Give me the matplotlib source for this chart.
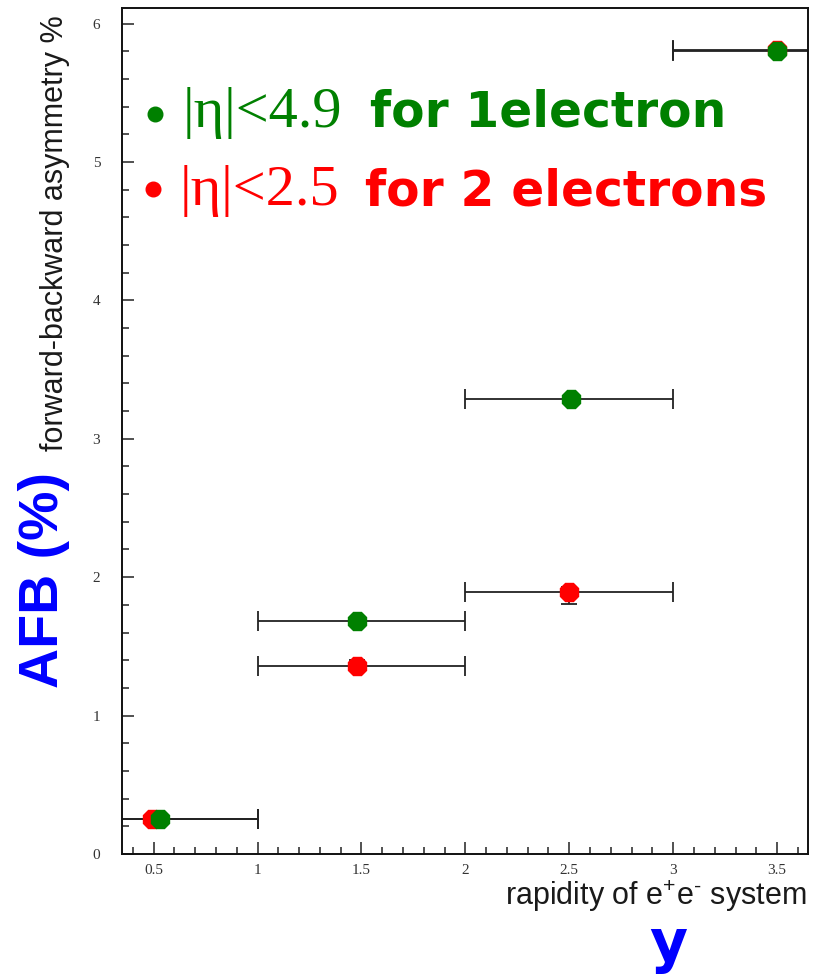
import matplotlib
matplotlib.use("Agg")
import matplotlib.pyplot as plt
from matplotlib.ticker import MultipleLocator

# rapidity bins of the e+e- system
bin_centers = [0.5, 1.5, 2.5, 3.5]
bin_half = [0.5, 0.5, 0.5, 0.5]

# |eta| < 4.9, at least one electron
green_x = [0.53, 1.48, 2.51, 3.50]
green_y = [0.25, 1.68, 3.29, 5.80]

# |eta| < 2.5, both electrons
red_x = [0.49, 1.48, 2.50, 3.50]
red_y = [0.25, 1.36, 1.89, 5.81]
red_err_lo = [0.03, 0.04, 0.085, 0.03]
red_err_hi = [0.03, 0.04, 0.04, 0.03]

GREEN = "#008000"
RED = "#ff0000"
BLUE = "#0000ff"
EBAR = "#222222"

plt.rcParams["mathtext.fontset"] = "custom"
plt.rcParams["mathtext.rm"] = "Liberation Sans"
plt.rcParams["mathtext.default"] = "rm"

fig = plt.figure(figsize=(8.15, 9.75), dpi=100)
ax = fig.add_axes([0.1503, 0.1241, 0.8414, 0.8674])

# horizontal bars show the bin width
ax.errorbar(bin_centers, green_y, xerr=bin_half, fmt="none", ecolor=EBAR,
            elinewidth=1.3, capsize=7, capthick=1.3, zorder=1)
ax.errorbar(bin_centers, red_y, xerr=bin_half, fmt="none", ecolor=EBAR,
            elinewidth=1.3, capsize=7, capthick=1.3, zorder=1)
ax.errorbar(red_x, red_y, yerr=[red_err_lo, red_err_hi], fmt="none", ecolor=EBAR,
            elinewidth=1.3, capsize=6, capthick=1.3, zorder=1)

ax.plot(red_x, red_y, ls="none", marker="8", ms=13.5, color=RED, mec=RED, zorder=2)
ax.plot(green_x, green_y, ls="none", marker="8", ms=13.5, color=GREEN, mec=GREEN, zorder=3)

ax.set_xlim(0.35, 3.65)
ax.set_ylim(0, 6.11)

ax.xaxis.set_major_locator(MultipleLocator(0.5))
ax.xaxis.set_minor_locator(MultipleLocator(0.1))
ax.yaxis.set_major_locator(MultipleLocator(1))
ax.yaxis.set_minor_locator(MultipleLocator(0.2))
ax.set_xticks([0.5, 1, 1.5, 2, 2.5, 3, 3.5])
ax.set_xticklabels(["0.5", "1", "1.5", "2", "2.5", "3", "3.5"])
ax.set_yticks([0, 1, 2, 3, 4, 5, 6])

ax.tick_params(which="both", direction="in", top=False, right=False, width=1.1,
               colors="#222222", labelcolor="#333333")
ax.tick_params(which="major", length=8.6)
ax.tick_params(which="minor", length=4.7)
ax.tick_params(axis="x", which="major", pad=7)
ax.tick_params(axis="y", which="major", pad=16)
for lab in ax.get_xticklabels() + ax.get_yticklabels():
    lab.set_family(["Liberation Serif", "DejaVu Serif"])
    lab.set_fontsize(11)
for sp in ax.spines.values():
    sp.set_linewidth(1.4)
    sp.set_color("#111111")

# legend written as coloured text
serif = ["Liberation Serif", "DejaVu Serif"]
ax.plot([0.047], [0.875], "o", ms=10.5, color=GREEN, transform=ax.transAxes, clip_on=False)
ax.text(0.087, 0.860, "|\u03b7|<4.9", transform=ax.transAxes, color=GREEN,
        fontsize=42, family=serif, va="baseline")
ax.text(0.361, 0.860, "for 1electron", transform=ax.transAxes, color=GREEN,
        fontsize=35, family="DejaVu Sans", weight="bold", va="baseline")

ax.plot([0.044], [0.786], "o", ms=10.5, color=RED, transform=ax.transAxes, clip_on=False)
ax.text(0.084, 0.767, "|\u03b7|<2.5", transform=ax.transAxes, color=RED,
        fontsize=42, family=serif, va="baseline")
ax.text(0.354, 0.767, "for 2 electrons", transform=ax.transAxes, color=RED,
        fontsize=35, family="DejaVu Sans", weight="bold", va="baseline")

# axis titles
ax.text(-0.0985, 0.992, "forward-backward asymmetry %", transform=ax.transAxes,
        rotation=90, ha="center", va="top", fontsize=22, family="Liberation Sans",
        color="#1a1a1a")
ax.text(-0.115, 0.324, "AFB (%)", transform=ax.transAxes, rotation=90,
        ha="center", va="center", fontsize=40, family="Liberation Sans",
        weight="bold", color=BLUE)
ax.text(0.998, -0.060, "rapidity of e$^{+}$e$^{\\text{-}}$ system", transform=ax.transAxes,
        ha="right", va="baseline", fontsize=22, family="Liberation Sans",
        color="#1a1a1a")
ax.text(0.796, -0.1275, "y", transform=ax.transAxes, ha="center", va="baseline",
        fontsize=42, family="DejaVu Sans", weight="bold", color=BLUE)

fig.savefig("out.png", dpi=100)
